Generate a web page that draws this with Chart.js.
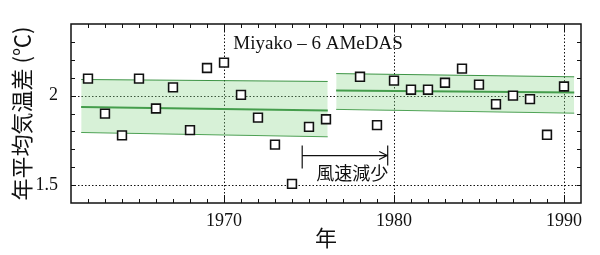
<!DOCTYPE html>
<html>
<head>
<meta charset="utf-8">
<script src="https://cdn.jsdelivr.net/npm/chart.js@4/dist/chart.umd.min.js"></script>
<style>
  html, body { margin: 0; padding: 0; background: #fff; }
  #khung { width: 600px; height: 255px; }
</style>
</head>
<body>
<div id="khung"><canvas id="bieuDo"></canvas></div>
<script>
// Số liệu (năm, chênh lệch nhiệt độ trung bình năm)
const years = [1962, 1963, 1964, 1965, 1966, 1967, 1968, 1969, 1970, 1971, 1972, 1973, 1974, 1975, 1976,
  1978, 1979, 1980, 1981, 1982, 1983, 1984, 1985, 1986, 1987, 1988, 1989, 1990];
const anomaly = [2.095, 1.899, 1.778, 2.095, 1.928, 2.046, 1.807, 2.154, 2.184, 2.004, 1.877, 1.726, 1.507, 1.825, 1.868,
  2.105, 1.835, 2.084, 2.033, 2.033, 2.072, 2.151, 2.061, 1.952, 2.000, 1.980, 1.781, 2.051];

// Đường trung bình và dải ±σ cho hai giai đoạn
const period1X = [1961.6, 1976.1];
const period1Mean = [1.936, 1.917];
const period1Upper = [2.090, 2.079];
const period1Lower = [1.794, 1.770];
const period2X = [1976.6, 1990.6];
const period2Mean = [2.028, 2.018];
const period2Upper = [2.123, 2.105];
const period2Lower = [1.923, 1.902];

// Trục
const xLabelYears = [1970, 1980, 1990];
const yLabelValues = [1.5, 2];
const stationLabel = "Miyako – 6 AMeDAS";
const noteLabel = "風速減少";
const arrowYears = [1974.6, 1979.6];
const arrowValue = 1.665;

const toPts = (xs, ys) => xs.map((v, i) => ({ x: v, y: ys[i] }));

function bandSet(xs, ys, width, color, fill, bg) {
  return {
    data: toPts(xs, ys),
    showLine: true,
    borderColor: color,
    borderWidth: width,
    pointRadius: 0,
    fill: fill,
    backgroundColor: bg,
  };
}

const bandColor = "rgba(140, 215, 140, 0.35)";
const edgeColor = "rgba(30, 130, 40, 0.85)";

const khungPlugin = {
  id: "khung",
  beforeDatasetsDraw(chart) {
    const { ctx, chartArea: a, scales: { x, y } } = chart;
    ctx.save();
    ctx.strokeStyle = "#111";
    ctx.lineWidth = 1;
    ctx.setLineDash([1.5, 2]);
    xLabelYears.forEach((v) => {
      const px = Math.round(x.getPixelForValue(v)) + 0.5;
      ctx.beginPath(); ctx.moveTo(px, a.top); ctx.lineTo(px, a.bottom); ctx.stroke();
    });
    yLabelValues.forEach((v) => {
      const py = Math.round(y.getPixelForValue(v)) + 0.5;
      ctx.beginPath(); ctx.moveTo(a.left, py); ctx.lineTo(a.right, py); ctx.stroke();
    });
    ctx.restore();
  },
  afterDraw(chart) {
    const { ctx, chartArea: a, scales: { x, y } } = chart;
    ctx.save();
    ctx.strokeStyle = "#111";
    ctx.lineWidth = 1;
    // vạch chia năm (bên trong khung)
    for (let yr = 1962; yr <= 1990; yr++) {
      const px = Math.round(x.getPixelForValue(yr)) + 0.5;
      const len = yr % 10 === 0 ? 8 : 4;
      ctx.beginPath();
      ctx.moveTo(px, a.bottom); ctx.lineTo(px, a.bottom - len);
      ctx.moveTo(px, a.top); ctx.lineTo(px, a.top + len);
      ctx.stroke();
    }
    for (let k = 15; k <= 23; k++) {
      const py = Math.round(y.getPixelForValue(k / 10)) + 0.5;
      ctx.beginPath();
      ctx.moveTo(a.left, py); ctx.lineTo(a.left + 4, py);
      ctx.moveTo(a.right, py); ctx.lineTo(a.right - 4, py);
      ctx.stroke();
    }
    // khung
    ctx.lineWidth = 1.5;
    ctx.strokeRect(a.left, a.top, a.right - a.left, a.bottom - a.top);

    // chú thích
    ctx.fillStyle = "#111";
    ctx.font = "19px 'Liberation Serif'";
    ctx.textBaseline = "middle";
    ctx.textAlign = "left";
    ctx.fillText(stationLabel, x.getPixelForValue(1970.55), y.getPixelForValue(2.29));

    const x0 = x.getPixelForValue(arrowYears[0]);
    const x1 = x.getPixelForValue(arrowYears[1]);
    const ay = y.getPixelForValue(arrowValue);
    ctx.lineWidth = 1.2;
    ctx.beginPath();
    ctx.moveTo(x0, ay - 10); ctx.lineTo(x0, ay + 13);
    ctx.moveTo(x0, ay); ctx.lineTo(x1, ay);
    ctx.moveTo(x1 - 8, ay - 4); ctx.lineTo(x1, ay); ctx.lineTo(x1 - 8, ay + 4);
    ctx.moveTo(x1 + 0.5, ay - 10); ctx.lineTo(x1 + 0.5, ay + 10);
    ctx.stroke();
    ctx.font = "18px 'Noto Sans CJK JP'";
    ctx.textAlign = "center";
    ctx.fillText(noteLabel, (x.getPixelForValue(1975.5) + x1) / 2, ay + 18);
    ctx.restore();
  },
};

new Chart(document.getElementById("bieuDo"), {
  type: "scatter",
  data: {
    datasets: [
      {
        data: toPts(years, anomaly),
        pointStyle: "rect",
        pointRadius: 6.2,
        pointBorderWidth: 1.6,
        pointBorderColor: "#111",
        pointBackgroundColor: "#fff",
      },
      bandSet(period1X, period1Upper, 1, edgeColor, "+2", bandColor),
      bandSet(period1X, period1Mean, 2, "#1f7f2a", false, bandColor),
      bandSet(period1X, period1Lower, 1, edgeColor, false, bandColor),
      bandSet(period2X, period2Upper, 1, edgeColor, "+2", bandColor),
      bandSet(period2X, period2Mean, 2, "#1f7f2a", false, bandColor),
      bandSet(period2X, period2Lower, 1, edgeColor, false, bandColor),
    ],
  },
  options: {
    responsive: true,
    maintainAspectRatio: false,
    animation: false,
    layout: { padding: { top: 24, right: 19, left: 0, bottom: 0 } },
    plugins: { legend: { display: false }, tooltip: { enabled: false } },
    scales: {
      x: {
        type: "linear",
        min: 1961,
        max: 1991,
        afterFit: (s) => { s.height = 52; },
        grid: { display: false },
        border: { display: false },
        ticks: {
          stepSize: 1,
          autoSkip: false,
          maxRotation: 0,
          padding: -1,
          color: "#111",
          font: { family: "Liberation Serif", size: 18 },
          callback: (v) => (xLabelYears.includes(v) ? String(v) : ""),
        },
        title: {
          display: true,
          text: "年",
          color: "#111",
          font: { family: "Noto Sans CJK JP", size: 22 },
          padding: { top: 0, bottom: 4 },
        },
      },
      y: {
        min: 1.4,
        max: 2.4,
        afterFit: (s) => { s.width = 71; },
        grid: { display: false },
        border: { display: false },
        ticks: {
          stepSize: 0.1,
          autoSkip: false,
          padding: 5,
          color: "#111",
          font: { family: "Liberation Serif", size: 18 },
          callback: (v) => {
            const hit = yLabelValues.find((t) => Math.abs(t - v) < 1e-6);
            return hit === undefined ? "" : String(hit);
          },
        },
        title: {
          display: true,
          text: "年平均気温差 (℃)",
          color: "#111",
          font: { family: "Noto Sans CJK JP", size: 22 },
          padding: { top: 8, bottom: 0 },
        },
      },
    },
  },
  plugins: [khungPlugin],
});
</script>
</body>
</html>
